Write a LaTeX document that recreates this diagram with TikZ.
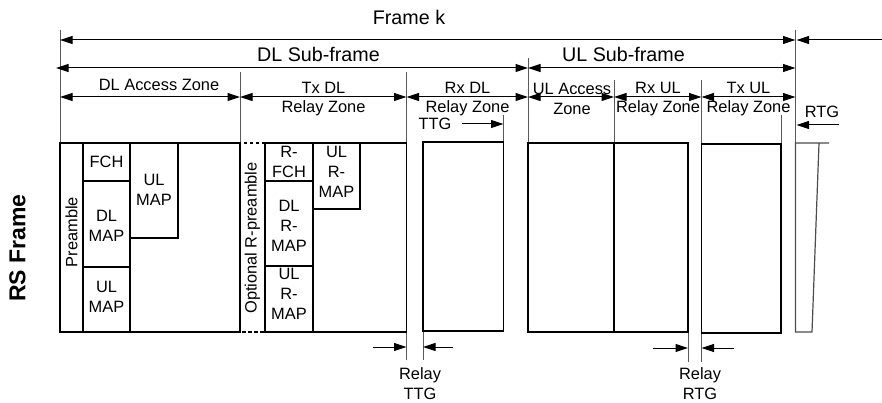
\documentclass[tikz,border=0pt]{standalone}
\usepackage{fontspec}
\setmainfont{Liberation Sans}
\usetikzlibrary{arrows.meta}

\newcommand{\framefont}{\fontsize{19.7pt}{23pt}\selectfont}
\newcommand{\zonefont}{\fontsize{16.4pt}{19.8pt}\selectfont}

\begin{document}
\begin{tikzpicture}[
    x=1pt,y=-1pt,
    dim/.style={line width=1pt,{Triangle[length=12.5pt,width=8pt]}-{Triangle[length=12.5pt,width=8pt]}},
    dim end/.style={line width=1pt,-{Triangle[length=12.5pt,width=8pt]}},
    guide/.style={line width=1pt,black!65},
    zone/.style={line width=1.8pt},
    big label/.style={font=\framefont,inner sep=0pt,anchor=base},
    zone label/.style={font=\zonefont,inner sep=0pt,align=center}
]

\useasboundingbox (0,0) rectangle (882,403);

% extension lines
\draw[guide] (60,30) -- (60,143);
\draw[guide] (240,72) -- (240,143);
\draw[guide] (406.5,72) -- (406.5,360);
\draw[guide] (528,58) -- (528,143);
\draw[guide] (614,80) -- (614,143);
\draw[guide] (701.5,80) -- (701.5,362);
\draw[guide] (795.5,30) -- (795.5,143);
\draw[guide] (503.5,115) -- (503.5,162);
\draw[guide] (781,115) -- (781,145);
\draw[guide] (423,332) -- (423,360);
\draw[guide] (688,332) -- (688,362);

% frame k
\coordinate (f0) at (60,40);
\coordinate (f1) at (795.5,40);
\coordinate (f2) at (796.5,40);
\coordinate (f3) at (882,40);
\draw[dim] (f0) -- (f1);
\draw[dim end] (f3) -- (f2);
\node[big label] (frame) at (409,25) {Frame k};

% sub-frames
\coordinate (s0) at (56,68);
\coordinate (s1) at (528,68);
\coordinate (s2) at (795.5,68);
\draw[dim] (s0) -- (s1);
\draw[dim] (s1) -- (s2);
\node[big label] (dlsub) at (318.5,62) {DL Sub-frame};
\node[big label] (ulsub) at (623.5,62) {UL Sub-frame};

% zones
\coordinate (z0) at (60,97);
\coordinate (z1) at (240,97);
\coordinate (z2) at (406.5,97);
\coordinate (z3) at (528,97);
\coordinate (z4) at (614,97);
\coordinate (z5) at (701.5,97);
\coordinate (z6) at (795.5,97);
\draw[dim] (z0) -- (z1);
\draw[dim] (z1) -- (z2);
\draw[dim] (z2) -- (z3);
\draw[dim] (z3) -- (z4);
\draw[dim] (z4) -- (z5);
\draw[dim] (z5) -- (z6);
\node[zone label,anchor=base] (dlacc) at (159,91) {DL Access Zone};
\node[zone label] (txdl) at (323.5,99) {Tx DL\\Relay Zone};
\node[zone label] (rxdl) at (467.5,99) {Rx DL\\Relay Zone};
\node[zone label] (ulacc) at (572,99) {UL Access\\Zone};
\node[zone label] (rxul) at (658,99) {Rx UL\\Relay Zone};
\node[zone label] (txul) at (748.5,99) {Tx UL\\Relay Zone};

% gaps
\coordinate (ttg-a) at (462,124);
\coordinate (ttg-b) at (503.5,124);
\draw[dim end] (ttg-a) -- (ttg-b);
\node[zone label] (ttg) at (435,124) {TTG};

\coordinate (rtg-a) at (839,125);
\coordinate (rtg-b) at (796.5,125);
\draw[dim end] (rtg-a) -- (rtg-b);
\node[zone label] (rtg) at (822,112) {RTG};

\coordinate (rttg-a) at (373,347);
\coordinate (rttg-b) at (406.5,347);
\coordinate (rttg-c) at (453,347);
\coordinate (rttg-d) at (423,347);
\draw[dim end] (rttg-a) -- (rttg-b);
\draw[dim end] (rttg-c) -- (rttg-d);
\node[zone label] (relayttg) at (420,384) {Relay\\TTG};

\coordinate (rrtg-a) at (653,348);
\coordinate (rrtg-b) at (688,348);
\coordinate (rrtg-c) at (734,348);
\coordinate (rrtg-d) at (701.5,348);
\draw[dim end] (rrtg-a) -- (rrtg-b);
\draw[dim end] (rrtg-c) -- (rrtg-d);
\node[zone label] (relayrtg) at (700,384) {Relay\\RTG};

% DL access zone
\draw[zone] (60,143) rectangle (240,332);
\draw[zone] (60,143) rectangle (83,332);
\draw[zone] (83,143) rectangle (130,181);
\draw[zone] (83,181) rectangle (130,267);
\draw[zone] (83,267) rectangle (130,332);
\draw[zone] (130,143) rectangle (178,238);
\node[zone label,rotate=90] (pre) at (71.5,232) {Preamble};
\node[zone label] (fch) at (106.5,162) {FCH};
\node[zone label] (dlmap) at (106.5,226) {DL\\MAP};
\node[zone label] (ulmap) at (106.5,297) {UL\\MAP};
\node[zone label] (ulmap2) at (154,190) {UL\\MAP};

% Tx DL relay zone
\draw[zone,dash pattern=on 3.5pt off 2.5pt] (265,143) -- (240,143) -- (240,332) -- (265,332);
\draw[zone] (265,143) rectangle (406.5,332);
\draw[zone] (265,143) rectangle (313,181);
\draw[zone] (265,181) rectangle (313,266);
\draw[zone] (265,266) rectangle (313,332);
\draw[zone] (313,143) rectangle (360,209);
\node[zone label,rotate=90] (rpre) at (252.5,238) {Optional R-preamble};
\node[zone label] (rfch) at (289,162) {R-\\FCH};
\node[zone label] (dlrmap) at (289,226) {DL\\R-\\MAP};
\node[zone label] (ulrmap) at (289,294) {UL\\R-\\MAP};
\node[zone label] (ulrmap2) at (336.5,172) {UL\\R-\\MAP};

% remaining zones
\draw[zone] (423,142) rectangle (503.5,331);
\draw[zone] (528,143) rectangle (614,332);
\draw[zone] (614,143) rectangle (688,332);
\draw[zone] (701.5,144) rectangle (781,333);
\draw[line width=1.2pt,black!70] (829,143) -- (795.5,143) -- (795.5,332) -- (812,332) -- (819,143);

\node[font=\fontsize{23pt}{27pt}\selectfont\bfseries,rotate=90,inner sep=0pt] (rs) at (17.5,248) {RS Frame};

\end{tikzpicture}
\end{document}
